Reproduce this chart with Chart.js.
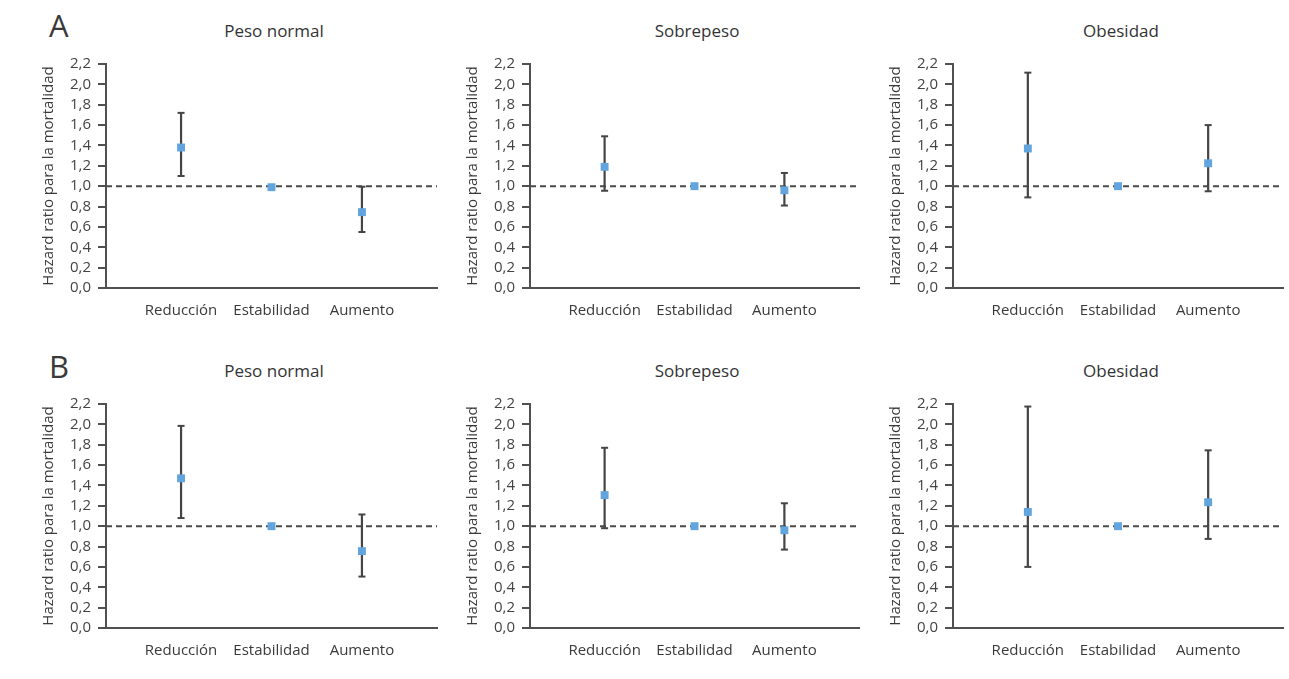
<!DOCTYPE html>
<html>
<head>
<meta charset="utf-8">
<script src="https://cdn.jsdelivr.net/npm/chart.js@4"></script>
<style>
body { margin: 0; background: #fff; width: 1289px; height: 679px; position: relative; overflow: hidden; font-family: "Open Sans", sans-serif; color: #444; }
.panel { position: absolute; }
.title { position: absolute; font-size: 17px; line-height: 20px; transform: translateX(-50%); white-space: nowrap; color: #333; }
.letter { position: absolute; font-size: 31px; line-height: 31px; color: #3a3a3a; }
</style>
</head>
<body>

<div class="letter" style="left:49px;top:10px">A</div>
<div class="letter" style="left:49px;top:351px">B</div>

<div class="title" style="left:274px;top:21px">Peso normal</div>
<div class="title" style="left:697px;top:21px">Sobrepeso</div>
<div class="title" style="left:1121px;top:21px">Obesidad</div>
<div class="title" style="left:274px;top:361px">Peso normal</div>
<div class="title" style="left:697px;top:361px">Sobrepeso</div>
<div class="title" style="left:1121px;top:361px">Obesidad</div>

<div class="panel" style="left:40px;top:40px;width:403px;height:290px"><canvas id="a1"></canvas></div>
<div class="panel" style="left:464px;top:40px;width:401px;height:290px"><canvas id="a2"></canvas></div>
<div class="panel" style="left:887px;top:40px;width:402px;height:290px"><canvas id="a3"></canvas></div>
<div class="panel" style="left:40px;top:380px;width:403px;height:290px"><canvas id="b1"></canvas></div>
<div class="panel" style="left:464px;top:380px;width:401px;height:290px"><canvas id="b2"></canvas></div>
<div class="panel" style="left:887px;top:380px;width:402px;height:290px"><canvas id="b3"></canvas></div>

<script>
var categories = ['Reducción', 'Estabilidad', 'Aumento'];
var yTicks = [0, 0.2, 0.4, 0.6, 0.8, 1.0, 1.2, 1.4, 1.6, 1.8, 2.0, 2.2];
var reference = 1.0;

// A - hazard ratio y limites del intervalo
var aNormalHR = [1.38, 0.99, 0.745];
var aNormalLow = [1.10, null, 0.55];
var aNormalHigh = [1.72, null, 0.995];

var aSobreHR = [1.19, 1.0, 0.96];
var aSobreLow = [0.955, null, 0.81];
var aSobreHigh = [1.49, null, 1.13];

var aObesHR = [1.37, 1.0, 1.225];
var aObesLow = [0.89, null, 0.95];
var aObesHigh = [2.115, null, 1.60];

// B
var bNormalHR = [1.47, 1.0, 0.755];
var bNormalLow = [1.08, null, 0.505];
var bNormalHigh = [1.985, null, 1.115];

var bSobreHR = [1.305, 1.0, 0.96];
var bSobreLow = [0.98, null, 0.77];
var bSobreHigh = [1.77, null, 1.225];

var bObesHR = [1.14, 1.0, 1.235];
var bObesLow = [0.60, null, 0.875];
var bObesHigh = [2.175, null, 1.745];

var xMin = -0.83;
var xMax = 2.83;

var textColor = '#3a3a3a';
var axisColor = '#505050';
var barColor = '#454545';
var markerColor = '#62a5de';

function errorBarPoints(low, high) {
    var pts = [];
    for (var i = 0; i < categories.length; i++) {
        if (low[i] == null) continue;
        pts.push({ x: i, y: low[i] });
        pts.push({ x: i, y: high[i] });
        pts.push({ x: i, y: null });
    }
    return pts;
}

function drawPanel(id, hr, low, high) {
    var ctx = document.getElementById(id).getContext('2d');

    var markers = hr.map(function (v, i) { return { x: i, y: v }; });

    new Chart(ctx, {
        type: 'scatter',
        data: {
            datasets: [{
                // cuadrados azules
                data: markers,
                pointStyle: 'rect',
                pointRadius: 5.6,
                pointBorderWidth: 0,
                backgroundColor: markerColor,
                borderColor: markerColor,
                showLine: false
            }, {
                // barras de error
                type: 'line',
                data: errorBarPoints(low, high),
                borderColor: barColor,
                borderWidth: 2.2,
                pointStyle: 'line',
                pointRadius: 3.5,
                pointBorderWidth: 2,
                pointBorderColor: barColor,
                spanGaps: false,
                fill: false
            }, {
                // linea de referencia 1,0
                type: 'line',
                data: [{ x: xMin, y: reference }, { x: xMax, y: reference }],
                borderColor: '#4a4a4a',
                borderWidth: 2,
                borderDash: [6, 4],
                pointRadius: 0,
                fill: false
            }]
        },
        options: {
            responsive: true,
            maintainAspectRatio: false,
            animation: false,
            events: [],
            layout: { padding: { top: 24, right: 0, left: 0, bottom: 0 } },
            plugins: {
                legend: { display: false },
                tooltip: { enabled: false }
            },
            scales: {
                x: {
                    type: 'linear',
                    min: xMin,
                    max: xMax,
                    afterBuildTicks: function (scale) {
                        scale.ticks = categories.map(function (c, i) { return { value: i }; });
                    },
                    afterFit: function (scale) { scale.height = 42; },
                    grid: { display: false, drawTicks: false },
                    border: { display: true, color: axisColor, width: 2 },
                    ticks: {
                        padding: 14,
                        color: textColor,
                        font: { family: 'Open Sans', size: 15 },
                        maxRotation: 0,
                        autoSkip: false,
                        callback: function (v) { return categories[v]; }
                    }
                },
                y: {
                    type: 'linear',
                    min: 0,
                    max: 2.2,
                    afterBuildTicks: function (scale) {
                        scale.ticks = yTicks.map(function (v) { return { value: v }; });
                    },
                    afterFit: function (scale) { scale.width = 66; },
                    grid: {
                        drawOnChartArea: false,
                        drawTicks: true,
                        tickLength: 8,
                        color: axisColor,
                        lineWidth: 2
                    },
                    border: { display: true, color: axisColor, width: 2 },
                    ticks: {
                        padding: 7,
                        color: '#444',
                        font: { family: 'Open Sans', size: 15 },
                        autoSkip: false,
                        callback: function (v) { return v.toFixed(1).replace('.', ','); }
                    },
                    title: {
                        display: true,
                        text: 'Hazard ratio para la mortalidad',
                        color: textColor,
                        font: { family: 'Open Sans', size: 15 },
                        padding: { top: 0, bottom: 0 }
                    }
                }
            }
        }
    });
}

drawPanel('a1', aNormalHR, aNormalLow, aNormalHigh);
drawPanel('a2', aSobreHR, aSobreLow, aSobreHigh);
drawPanel('a3', aObesHR, aObesLow, aObesHigh);
drawPanel('b1', bNormalHR, bNormalLow, bNormalHigh);
drawPanel('b2', bSobreHR, bSobreLow, bSobreHigh);
drawPanel('b3', bObesHR, bObesLow, bObesHigh);
</script>
</body>
</html>
